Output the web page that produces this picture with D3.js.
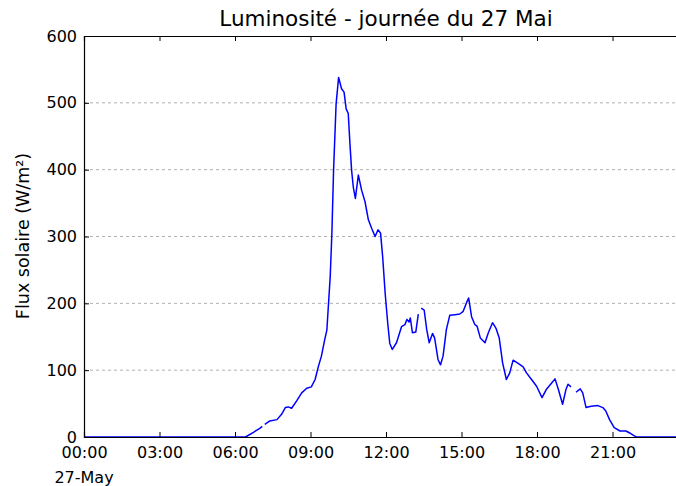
<!DOCTYPE html>
<html>
<head>
<meta charset="utf-8">
<script src="https://cdn.jsdelivr.net/npm/d3@7"></script>
<style>
  body { margin: 0; background: #fff; }
  svg { display: block; font-family: "DejaVu Sans", sans-serif; }
</style>
</head>
<body>
<div id="chart"></div>
<script>
// heure de la mesure (HH:MM) et flux solaire en W/m2, null = pas de mesure
var times = ["00:00", "02:00", "04:00", "06:00", "06:25", "06:44", "06:59", "07:05", "07:08", "07:11",
  "07:23", "07:40", "07:51", "08:00", "08:07", "08:15", "08:27", "08:39", "08:51", "09:02",
  "09:11", "09:19", "09:26", "09:34", "09:39", "09:47", "09:51", "09:55", "10:01", "10:07",
  "10:14", "10:20", "10:25", "10:30", "10:34", "10:38", "10:42", "10:47", "10:54", "11:02",
  "11:10", "11:18", "11:26", "11:34", "11:41", "11:47", "11:52", "11:58", "12:04", "12:09",
  "12:15", "12:25", "12:37", "12:45", "12:50", "12:55", "12:58", "13:03", "13:11", "13:17",
  "13:20", "13:24", "13:31", "13:37", "13:43", "13:51", "13:56", "14:04", "14:10", "14:16",
  "14:24", "14:32", "14:44", "14:56", "15:04", "15:12", "15:17", "15:24", "15:32", "15:37",
  "15:45", "15:56", "16:04", "16:14", "16:22", "16:30", "16:38", "16:47", "16:55", "17:03",
  "17:15", "17:27", "17:35", "17:47", "17:59", "18:12", "18:22", "18:34", "18:43", "18:51",
  "19:01", "19:09", "19:14", "19:21", "19:27", "19:33", "19:43", "19:49", "19:57", "20:09",
  "20:25", "20:37", "20:44", "20:53", "21:04", "21:18", "21:32", "21:41", "21:51", "21:57",
  "23:59"];
var flux = [0, 0, 0, 0, 0, 7, 13, 16, null, 19,
  24, 26, 34, 44, 45, 43, 54, 66, 73, 75,
  86, 106, 121, 146, 160, 240, 305, 399, 498, 538,
  521, 516, 491, 484, 439, 399, 374, 357, 392, 369,
  352, 325, 312, 300, 310, 305, 270, 215, 171, 140,
  131, 141, 165, 168, 176, 172, 178, 156, 157, 184,
  null, 193, 190, 161, 141, 155, 148, 116, 108, 121,
  161, 182, 183, 184, 188, 201, 208, 180, 168, 166,
  148, 141, 156, 171, 163, 148, 111, 86, 96, 115,
  110, 105, 96, 86, 76, 59, 71, 80, 87, 71,
  49, 71, 79, 75, null, 67, 72, 66, 44, 46,
  47, 44, 39, 26, 14, 9, 9, 6, 2, 0,
  0];
var yTicks = [0, 100, 200, 300, 400, 500, 600];
var xTickHours = [0, 3, 6, 9, 12, 15, 18, 21];

var svgWidth = 676;
var svgHeight = 486;
var margin = { top: 36, left: 84, bottom: 48 };
// l'axe des x va jusqu'a minuit, au-dela du bord droit de l'image
var width = 604;
var height = svgHeight - margin.top - margin.bottom - 1;

var parseTime = d3.timeParse("%Y-%m-%d %H:%M");
var day = "2016-05-27 ";
var data = times.map((t, i) => ({ t: parseTime(day + t), v: flux[i] }));

var svg = d3.select("#chart")
  .append("svg")
  .attr("width", svgWidth)
  .attr("height", svgHeight);

var chartGroup = svg.append("g")
  .attr("transform", `translate(${margin.left}, ${margin.top})`);

var xScale = d3.scaleTime()
  .domain([parseTime(day + "00:00"), d3.timeDay.offset(parseTime(day + "00:00"), 1)])
  .range([0, width]);
var yScale = d3.scaleLinear()
  .domain([0, 600])
  .range([height, 0]);

var xTickDates = xTickHours.map(h => d3.timeHour.offset(parseTime(day + "00:00"), h));

// grille horizontale pointillee
chartGroup.append("g")
  .selectAll("line")
  .data(yTicks.filter(d => d > 0 && d < 600))
  .enter()
  .append("line")
  .attr("x1", 0)
  .attr("x2", width)
  .attr("y1", d => yScale(d))
  .attr("y2", d => yScale(d))
  .attr("stroke", "#b0b0b0")
  .attr("stroke-width", 1)
  .attr("stroke-dasharray", "3,3");

// courbe
var line = d3.line()
  .defined(d => d.v != null)
  .x(d => xScale(d.t))
  .y(d => yScale(d.v));

chartGroup.append("path")
  .datum(data)
  .attr("fill", "none")
  .attr("stroke", "#0000ff")
  .attr("stroke-width", 1.5)
  .attr("stroke-linejoin", "round")
  .attr("d", line);

// axes (ticks vers l'interieur, style matplotlib)
var bottomAxis = d3.axisBottom(xScale)
  .tickValues(xTickDates)
  .tickSize(-5)
  .tickPadding(10)
  .tickFormat(d3.timeFormat("%H:%M"));
var topAxis = d3.axisTop(xScale)
  .tickValues(xTickDates)
  .tickSize(-5)
  .tickFormat("");
var leftAxis = d3.axisLeft(yScale)
  .tickValues(yTicks)
  .tickSize(-5)
  .tickPadding(7);

var xAxisG = chartGroup.append("g")
  .attr("transform", `translate(0, ${height})`)
  .call(bottomAxis);
chartGroup.append("g").call(topAxis);
var yAxisG = chartGroup.append("g").call(leftAxis);

[xAxisG, yAxisG].forEach(g => {
  g.selectAll("text").attr("font-size", 16).attr("fill", "#000").attr("font-family", "DejaVu Sans");
});
chartGroup.selectAll(".domain").attr("stroke", "#000").attr("stroke-width", 1.2);
chartGroup.selectAll(".tick line").attr("stroke", "#000");

// date sous le premier tick
chartGroup.append("text")
  .attr("x", xScale(xTickDates[0]))
  .attr("y", height + 46)
  .attr("text-anchor", "middle")
  .attr("font-size", 16)
  .text("27-May");

// titre et libelle de l'axe y
svg.append("text")
  .attr("x", 386)
  .attr("y", 26)
  .attr("text-anchor", "middle")
  .attr("font-size", 21.5)
  .text("Luminosité - journée du 27 Mai");

svg.append("text")
  .attr("transform", `translate(29, 236) rotate(-90)`)
  .attr("text-anchor", "middle")
  .attr("font-size", 17.5)
  .text("Flux solaire (W/m²)");
</script>
</body>
</html>
